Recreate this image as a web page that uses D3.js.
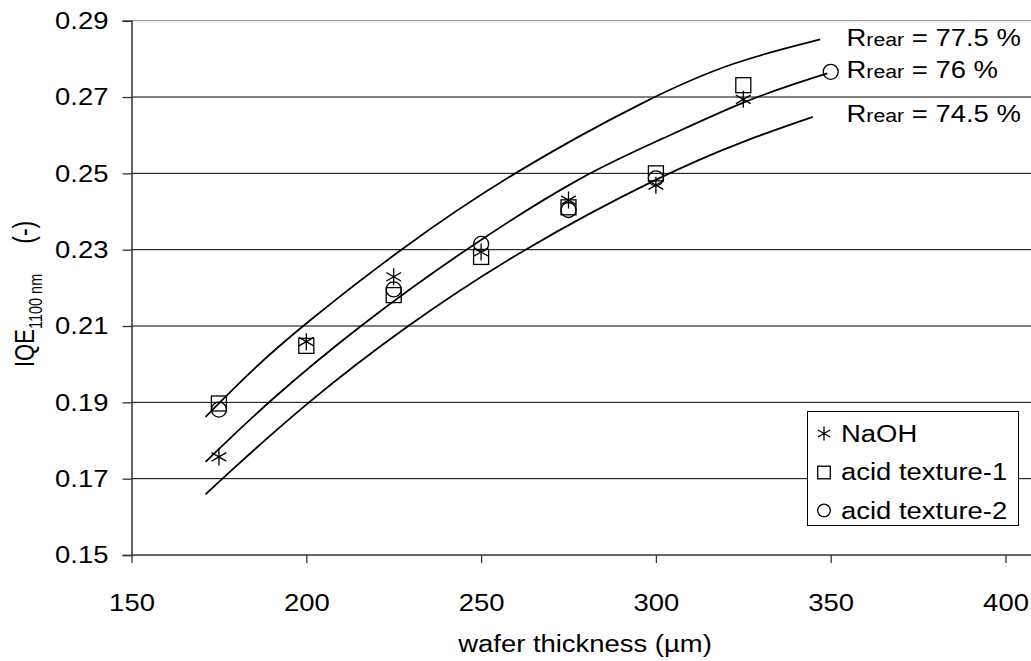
<!DOCTYPE html>
<html><head><meta charset="utf-8">
<script src="https://cdn.jsdelivr.net/npm/d3@7"></script>
<style>html,body{margin:0;padding:0;background:#fff;} svg{display:block;font-family:"Liberation Sans",Arial,sans-serif;}</style>
</head><body>
<svg id="c" width="1031" height="661"></svg>
<script>
// ---- data ----
const yTicks = [0.15,0.17,0.19,0.21,0.23,0.25,0.27,0.29];
const xTicks = [150,200,250,300,350,400];

const naohX = [175,200,225,250,275,300,325];
const naohY = [0.1757,0.2059,0.2229,0.2294,0.2430,0.2469,0.2694];
const acid1X = [175,200,225,250,275,300,325];
const acid1Y = [0.1897,0.2048,0.2181,0.2281,0.2411,0.2500,0.2731];
const acid2X = [175,225,250,275,300,350];
const acid2Y = [0.1881,0.2196,0.2315,0.2404,0.2487,0.2766];

const r775X = [171.2,185,198.8,226.5,258.4,298.5,322,347];
const r775Y = [0.1862,0.1990,0.21,0.23,0.25,0.27,0.2793,0.2851];
const r76X  = [171.2,188.8,215,245.1,279.5,302,326.1,349];
const r76Y  = [0.1744,0.19,0.21,0.23,0.25,0.2590,0.2695,0.2762];
const r745X = [171.2,175.9,200.1,228.4,261.3,302.7,325,344.9];
const r745Y = [0.1659,0.17,0.19,0.21,0.23,0.25,0.2585,0.2648];

const curveLabels = ["77.5 %","76 %","74.5 %"];
const seriesNames = ["NaOH","acid texture-1","acid texture-2"];

// ---- layout ----
const svg = d3.select("#c");
const SX = 1.12, FS = 24.5;
const x = d3.scaleLinear().domain([150,400]).range([131.5,1005.5]);
const y = d3.scaleLinear().domain([0.15,0.29]).range([555,20.7]);
const plotRight = 1031;

// gridlines
svg.append("g").selectAll("line").data(yTicks.filter(d=>d>0.15)).join("line")
  .attr("x1",x(150)).attr("x2",plotRight)
  .attr("y1",d=>y(d)).attr("y2",d=>y(d))
  .attr("stroke",d=>d===0.29?"#888":"#000").attr("stroke-width",1);

// curves
const line = d3.line().x(d=>x(d[0])).y(d=>y(d[1])).curve(d3.curveBasis);
const curves = [[r775X,r775Y],[r76X,r76Y],[r745X,r745Y]];
svg.append("g").selectAll("path").data(curves).join("path")
  .attr("d",c=>line(c[0].map((v,i)=>[v,c[1][i]])))
  .attr("fill","none").attr("stroke","#000").attr("stroke-width",1.8);

// axes
const ay = svg.append("g").attr("transform",`translate(${x(150)},0)`)
  .call(d3.axisLeft(y).tickValues(yTicks).tickFormat(d3.format(".2f")).tickSize(9).tickPadding(14));
const ax = svg.append("g").attr("transform",`translate(0,${y(0.15)})`)
  .call(d3.axisBottom(x).tickValues(xTicks).tickSize(8).tickFormat(d3.format("d")));
ax.select(".domain").attr("d",`M${x(150)},0H${plotRight}`);
[ay,ax].forEach(a=>{
  a.select(".domain").attr("stroke","#333").attr("stroke-width",1.5);
  a.selectAll(".tick line").attr("stroke","#333").attr("stroke-width",1.3);
  a.selectAll("text").attr("font-size",FS).attr("fill","#000")
   .attr("font-family",'"Liberation Sans",Arial,sans-serif');
});
ay.selectAll(".tick text").attr("x",-23/SX).attr("transform",`scale(${SX},1)`);
ax.selectAll(".tick text").attr("y",0).attr("dy",0).attr("transform",`translate(0,56) scale(${SX},1)`);

// markers
function star(g,cx,cy,r){
  const a=r*0.87,b=r*0.5;
  g.append("path").attr("d",`M${cx},${cy-r}V${cy+r}M${cx-a},${cy-b}L${cx+a},${cy+b}M${cx-a},${cy+b}L${cx+a},${cy-b}`)
   .attr("stroke","#000").attr("stroke-width",1.3).attr("fill","none");
}
function square(g,cx,cy,h){
  g.append("rect").attr("x",cx-h).attr("y",cy-h).attr("width",2*h).attr("height",2*h)
   .attr("stroke","#000").attr("stroke-width",1.3).attr("fill","none");
}
function circ(g,cx,cy,r){
  g.append("circle").attr("cx",cx).attr("cy",cy).attr("r",r)
   .attr("stroke","#000").attr("stroke-width",1.3).attr("fill","none");
}
const mk = svg.append("g");
acid1X.forEach((v,i)=>square(mk,x(v),y(acid1Y[i]),7.5));
acid2X.forEach((v,i)=>circ(mk,x(v),y(acid2Y[i]),7.5));
naohX.forEach((v,i)=>star(mk,x(v),y(naohY[i]),8.5));

// curve labels
const lblY = [45.5,78,121.5];
curveLabels.forEach((t,i)=>{
  const tx = svg.append("text").attr("transform",`translate(846.5,${lblY[i]}) scale(${SX},1)`)
    .attr("font-size",FS).attr("fill","#000");
  tx.append("tspan").text("R");
  tx.append("tspan").attr("font-size",19).text("rear");
  tx.append("tspan").text(" = "+t);
});

// legend
const lg = svg.append("g");
lg.append("rect").attr("x",807.5).attr("y",411.5).attr("width",211).attr("height",114)
  .attr("fill","#fff").attr("stroke","#000").attr("stroke-width",1);
const legY = [441.5,480,518.5];
star(lg,824,433.5,7); square(lg,824,472.5,6.3); circ(lg,824,510.5,6.3);
seriesNames.forEach((t,i)=>{
  lg.append("text").attr("transform",`translate(841,${legY[i]}) scale(${SX},1)`)
    .attr("font-size",FS).attr("fill","#000").text(t);
});

// axis titles
svg.append("text").attr("transform",`translate(585,652) scale(${SX},1)`)
  .attr("text-anchor","middle").attr("font-size",FS).attr("fill","#000").text("wafer thickness (µm)");
const yt = svg.append("text").attr("transform",`translate(33.5,367) scale(1.25,1) rotate(-90)`)
  .attr("font-size",22).attr("fill","#000");
yt.append("tspan").text("IQE");
yt.append("tspan").attr("font-size",14.5).attr("dy",6.5).text("1100 nm");
yt.append("tspan").attr("dy",-6.5).attr("dx",30).attr("font-size",23).text("(-)");
</script>
</body></html>
